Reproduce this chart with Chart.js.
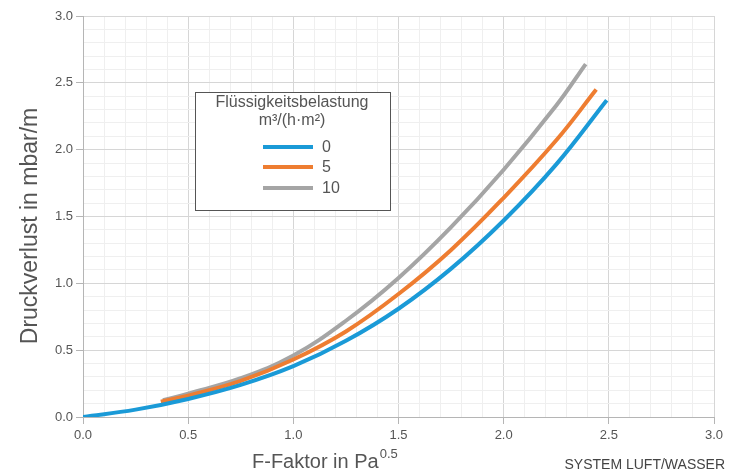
<!DOCTYPE html>
<html>
<head>
<meta charset="utf-8">
<script src="https://cdn.jsdelivr.net/npm/chart.js@4.4.1/dist/chart.umd.min.js"></script>
<style>
  html, body { margin: 0; padding: 0; background: #fff; }
  #wrap { width: 734px; height: 472px; }
</style>
</head>
<body>
<div id="wrap"><canvas id="chart"></canvas></div>
<script>
// Flüssigkeitsbelastung series (m3/(h*m2))
const seriesNames = ['0', '5', '10'];
const seriesColors = ['#1a9ad7', '#ee7d31', '#a5a5a5'];

// F-Faktor values and Druckverlust values
const f0  = [0, 0.25, 0.5, 0.75, 1.0, 1.25, 1.5, 1.75, 2.0, 2.25, 2.49];
const dp0 = [0, 0.055, 0.135, 0.24, 0.38, 0.57, 0.81, 1.11, 1.47, 1.89, 2.37];

const f5  = [0.37, 0.5, 0.75, 1.0, 1.25, 1.5, 1.75, 2.0, 2.25, 2.44];
const dp5 = [0.115, 0.16, 0.27, 0.43, 0.64, 0.92, 1.25, 1.64, 2.07, 2.45];

const f10  = [0.38, 0.5, 0.75, 1.0, 1.25, 1.5, 1.75, 2.0, 2.25, 2.39];
const dp10 = [0.125, 0.175, 0.29, 0.46, 0.72, 1.04, 1.42, 1.85, 2.33, 2.64];

const axisTicks = [0, 0.5, 1.0, 1.5, 2.0, 2.5, 3.0];

function pts(xs, ys) { return xs.map((x, i) => ({ x: x, y: ys[i] })); }

const isMajor = v => Math.round(v * 10) % 5 === 0;

const textColor = '#555555';
const font = 'Liberation Sans, Arial, sans-serif';

const extras = {
  id: 'extras',
  afterDraw(chart) {
    const ctx = chart.ctx;
    ctx.save();
    // y title
    ctx.fillStyle = textColor;
    ctx.font = '23px ' + font;
    ctx.translate(31, 226);
    ctx.rotate(-Math.PI / 2);
    ctx.textAlign = 'center';
    ctx.textBaseline = 'middle';
    ctx.fillText('Druckverlust in mbar/m', 0, 0);
    ctx.restore();

    // x title with superscript
    ctx.save();
    ctx.fillStyle = textColor;
    ctx.font = '20px ' + font;
    ctx.textBaseline = 'alphabetic';
    const main = 'F-Faktor in Pa';
    const w = ctx.measureText(main).width;
    const x0 = 252;
    ctx.fillText(main, x0, 468);
    ctx.font = '13px ' + font;
    ctx.fillText('0.5', x0 + w + 1, 458);
    // system note
    ctx.font = '14px ' + font;
    ctx.textAlign = 'right';
    ctx.fillStyle = '#444';
    ctx.fillText('SYSTEM LUFT/WASSER', 725, 469);
    ctx.restore();

    // legend box
    ctx.save();
    ctx.fillStyle = '#fff';
    ctx.fillRect(195, 92, 195, 118);
    ctx.strokeStyle = '#555';
    ctx.lineWidth = 1;
    ctx.strokeRect(195.5, 92.5, 195, 118);
    ctx.fillStyle = textColor;
    ctx.textAlign = 'center';
    ctx.textBaseline = 'middle';
    ctx.font = '16px ' + font;
    ctx.fillText('Flüssigkeitsbelastung', 292, 103);
    ctx.fillText('m³/(h·m²)', 292, 121);
    ctx.textAlign = 'left';
    ctx.font = '16px ' + font;
    const rows = [147, 167, 188];
    seriesNames.forEach((n, i) => {
      ctx.strokeStyle = seriesColors[i];
      ctx.lineWidth = 4;
      ctx.beginPath();
      ctx.moveTo(263, rows[i]);
      ctx.lineTo(313, rows[i]);
      ctx.stroke();
      ctx.fillText(n, 322, rows[i] + 1);
    });
    ctx.restore();
  }
};

const datasets = [pts(f0, dp0), pts(f5, dp5), pts(f10, dp10)].map((d, i) => ({
  label: seriesNames[i],
  data: d,
  borderColor: seriesColors[i],
  backgroundColor: seriesColors[i],
  borderWidth: 4,
  pointRadius: 0,
  fill: false,
  tension: 0.4
}));

function axis(extra) {
  return Object.assign({
    type: 'linear',
    min: 0,
    max: 3,
    border: { display: true, color: '#b5b5b5', width: 1 },
    grid: {
      color: c => isMajor(c.tick.value) ? '#d6d6d6' : '#efefef',
      tickColor: c => isMajor(c.tick.value) ? '#b5b5b5' : 'rgba(0,0,0,0)',
      tickLength: 7,
      lineWidth: 1
    },
    ticks: {
      stepSize: 0.1,
      autoSkip: false,
      maxRotation: 0,
      color: textColor,
      font: { family: font, size: 13 },
      callback: v => axisTicks.some(t => Math.abs(t - v) < 1e-6) ? Number(v).toFixed(1) : ''
    }
  }, extra);
}

new Chart(document.getElementById('chart'), {
  type: 'line',
  data: { datasets: datasets },
  options: {
    responsive: true,
    maintainAspectRatio: false,
    animation: false,
    layout: { padding: { top: 16, right: 20, left: 0, bottom: 0 } },
    plugins: { legend: { display: false }, tooltip: { enabled: false } },
    scales: {
      x: axis({ afterFit: s => { s.height = 55; }, ticks: Object.assign({}, axis().ticks, { padding: 4 }) }),
      y: axis({ afterFit: s => { s.width = 83; } })
    }
  },
  plugins: [extras]
});
</script>
</body>
</html>
